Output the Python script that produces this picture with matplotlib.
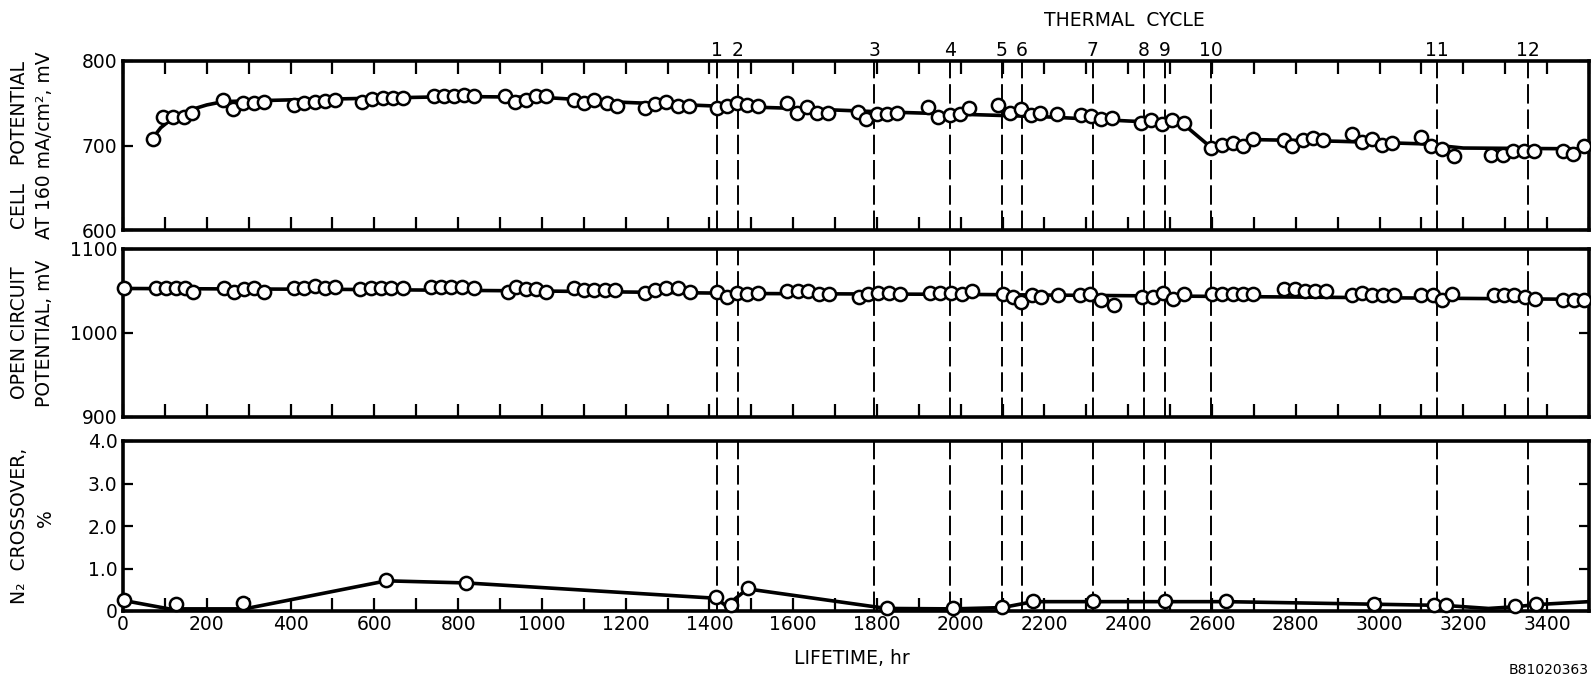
import matplotlib
matplotlib.use("Agg")
import matplotlib.pyplot as plt
from matplotlib.ticker import MultipleLocator
from matplotlib.transforms import blended_transform_factory

plt.rcParams['font.family'] = ['DejaVu Sans']

# ---------------- data ----------------
cycle_hr = [1418, 1468, 1793, 1974, 2098, 2146, 2315, 2437, 2488, 2597, 3137, 3354]
cycle_labels = ['1', '2', '3', '4', '5', '6', '7', '8', '9', '10', '11', '12']

cell_hr = [72, 96, 120, 145, 165,
           239, 263, 287, 312, 336,
           409, 433, 458, 482, 506,
           571, 595, 620, 644, 669,
           742, 766, 790, 815, 839,
           912, 936, 961, 985, 1009,
           1077, 1101, 1125, 1156, 1180,
           1247, 1271, 1296, 1326, 1351,
           1418, 1442, 1466, 1490, 1515,
           1586, 1609, 1633, 1658, 1683,
           1755, 1775, 1800, 1824, 1848,
           1922, 1946, 1974, 1998, 2020,
           2089, 2117, 2143, 2167, 2190, 2230,
           2287, 2311, 2335, 2361,
           2430, 2454, 2480, 2504, 2533,
           2597, 2623, 2650, 2675, 2699,
           2772, 2790, 2816, 2841, 2866,
           2933, 2957, 2983, 3005, 3029,
           3099, 3122, 3149, 3177,
           3267, 3294, 3318, 3344, 3368,
           3437, 3462, 3488]
cell_mv = [708, 734, 734, 734, 738,
           754, 743, 750, 750, 752,
           748, 750, 752, 753, 754,
           752, 755, 756, 756, 756,
           758, 758, 758, 760, 758,
           758, 752, 754, 758, 758,
           754, 750, 754, 750, 747,
           744, 749, 752, 747, 747,
           744, 747, 750, 748, 747,
           750, 738, 745, 739, 739,
           740, 731, 737, 737, 739,
           745, 734, 736, 737, 744,
           748, 739, 743, 736, 738, 737,
           736, 735, 731, 732,
           727, 730, 725, 730, 727,
           697, 701, 703, 699, 708,
           706, 699, 706, 709, 706,
           714, 704, 708, 701, 703,
           710, 699, 696, 687,
           689, 689, 693, 693, 693,
           693, 690, 699]
cell_fit_hr = [70, 90, 120, 160, 200, 240, 400, 600, 800, 1000, 1200, 1400,
               1600, 1800, 2000, 2200, 2400, 2530, 2597, 2700, 2900, 3100, 3200, 3500]
cell_fit_mv = [708, 721, 733, 742, 748, 752, 754, 756, 758, 757, 751, 747,
               744, 740, 737, 734, 729, 726, 698, 707, 705, 702, 697, 696]

oc_hr = [2,
         78, 102, 127, 147, 167,
         240, 264, 289, 313, 337,
         409, 433, 458, 482, 506,
         567, 592, 616, 641, 668,
         736, 760, 784, 809, 839,
         918, 938, 961, 985, 1009,
         1077, 1101, 1125, 1150, 1174,
         1246, 1271, 1296, 1326, 1353,
         1418, 1442, 1466, 1490, 1515,
         1586, 1611, 1636, 1661, 1685,
         1756, 1779, 1803, 1828, 1855,
         1927, 1950, 1978, 2003, 2028,
         2100, 2124, 2143, 2170, 2191, 2232,
         2285, 2308, 2334, 2365,
         2433, 2459, 2484, 2507, 2532,
         2600, 2624, 2649, 2674, 2698,
         2773, 2797, 2822, 2846, 2871,
         2933, 2957, 2982, 3007, 3034,
         3100, 3127, 3149, 3174,
         3273, 3297, 3322, 3347, 3371,
         3439, 3464, 3489]
oc_mv = [1054,
         1053, 1053, 1053, 1053, 1049,
         1054, 1049, 1052, 1054, 1049,
         1053, 1054, 1056, 1054, 1055,
         1052, 1054, 1054, 1054, 1054,
         1055, 1055, 1055, 1055, 1053,
         1049, 1055, 1052, 1052, 1049,
         1054, 1051, 1051, 1051, 1051,
         1048, 1051, 1053, 1053, 1049,
         1049, 1043, 1048, 1047, 1048,
         1050, 1050, 1050, 1046, 1046,
         1043, 1046, 1048, 1048, 1046,
         1048, 1048, 1048, 1046, 1050,
         1046, 1043, 1037, 1045, 1043, 1045,
         1045, 1046, 1039, 1033,
         1043, 1043, 1048, 1041, 1047,
         1047, 1047, 1047, 1047, 1047,
         1052, 1052, 1050, 1050, 1050,
         1045, 1048, 1045, 1045, 1045,
         1045, 1045, 1039, 1046,
         1045, 1045, 1045, 1043, 1040,
         1039, 1039, 1039]
oc_fit_hr = [0, 500, 1000, 1500, 2000, 2500, 3000, 3500]
oc_fit_mv = [1053, 1052, 1050, 1047, 1046, 1044, 1042, 1040]

n2_hr = [2, 126, 287, 629, 820, 1416, 1451, 1491, 1823, 1982, 2099, 2173,
         2316, 2487, 2633, 2987, 3130, 3158, 3324, 3373]
n2_pct = [0.27, 0.16, 0.18, 0.73, 0.67, 0.33, 0.14, 0.53, 0.08, 0.06, 0.10, 0.23,
          0.23, 0.23, 0.23, 0.16, 0.14, 0.14, 0.12, 0.16]
n2_fit_hr = [0, 110, 290, 629, 820, 1416, 1440, 1491, 1823, 1982, 2099, 2173,
             2633, 2987, 3158, 3260, 3324, 3373, 3500]
n2_fit_pct = [0.25, 0.05, 0.05, 0.71, 0.66, 0.30, 0.12, 0.52, 0.06, 0.05, 0.08, 0.22,
              0.22, 0.16, 0.13, 0.06, 0.10, 0.15, 0.22]

x_ticks = list(range(0, 3401, 200))
top_yticks = [600, 700, 800]
mid_yticks = [900, 1000, 1100]
bot_yticks = [0, 1.0, 2.0, 3.0, 4.0]
bot_yticklabels = ['0', '1.0', '2.0', '3.0', '4.0']

# ---------------- figure ----------------
W, H = 1591, 678
fig = plt.figure(figsize=(W / 100, H / 100), dpi=100)

def axes_px(top, bottom):
    left, right = 123, 1589
    return fig.add_axes([left / W, 1 - bottom / H, (right - left) / W, (bottom - top) / H])

ax1 = axes_px(61, 230)
ax2 = axes_px(249, 417)
ax3 = axes_px(441, 611)

FS = 13.5
spine_lw = 2.6
tick_len = 9.5

for ax, top_ticks in [(ax1, True), (ax2, False), (ax3, False)]:
    ax.set_xlim(0, 3500)
    ax.xaxis.set_major_locator(MultipleLocator(200))
    ax.xaxis.set_minor_locator(MultipleLocator(100))
    for s in ax.spines.values():
        s.set_linewidth(spine_lw)
    ax.tick_params(axis='x', which='both', direction='in', length=tick_len, width=1.6,
                   top=top_ticks, bottom=True, labelsize=FS, pad=3)
    ax.tick_params(axis='y', which='both', direction='in', length=7, width=1.6,
                   left=True, right=True, labelsize=FS, pad=4)
    for c in cycle_hr:
        ax.axvline(c, color='black', lw=1.4, linestyle=(0, (10, 3)), zorder=1)

ax1.set_ylim(600, 800)
ax1.set_yticks(top_yticks)
ax1.tick_params(axis='x', labelbottom=False)
ax2.set_ylim(900, 1100)
ax2.set_yticks(mid_yticks)
ax2.tick_params(axis='x', labelbottom=False)
ax3.set_ylim(0, 4.0)
ax3.set_yticks(bot_yticks)
ax3.set_yticklabels(bot_yticklabels)
ax3.set_xticks(x_ticks)

mk = dict(marker='o', ms=9.5, mfc='white', mec='black', mew=1.8, ls='none', zorder=4,
          clip_on=False)
line_kw = dict(color='black', lw=2.6, zorder=3, solid_capstyle='butt')

ax1.plot(cell_fit_hr, cell_fit_mv, **line_kw)
ax1.plot(cell_hr, cell_mv, **mk)
ax2.plot(oc_fit_hr, oc_fit_mv, **line_kw)
ax2.plot(oc_hr, oc_mv, **mk)
ax3.plot(n2_fit_hr, n2_fit_pct, **line_kw)
ax3.plot(n2_hr, n2_pct, **mk)

# thermal cycle labels
tr = blended_transform_factory(ax1.transData, ax1.transAxes)
for c, lab in zip(cycle_hr, cycle_labels):
    ax1.text(c, 1.065, lab, transform=tr, ha='center', va='center', fontsize=FS)
ax1.text(2390, 1.24, 'THERMAL  CYCLE', transform=tr, ha='center', va='center', fontsize=FS)

# y labels (two columns)
def ylab(x_px, y_px, s):
    fig.text(x_px / W, 1 - y_px / H, s, rotation=90, ha='center', va='center', fontsize=FS)

ylab(20, 145, 'CELL   POTENTIAL')
ylab(45, 145, 'AT 160 mA/cm², mV')
ylab(20, 333, 'OPEN CIRCUIT')
ylab(45, 333, 'POTENTIAL, mV')
ylab(20, 526, 'N₂  CROSSOVER,')
ylab(45, 518, '%')

fig.text(852 / W, 1 - 658 / H, 'LIFETIME, hr', ha='center', va='center', fontsize=FS)
fig.text(1589 / W, 1 - 670 / H, 'B81020363', ha='right', va='center', fontsize=10)

fig.savefig('out.png', dpi=100)
